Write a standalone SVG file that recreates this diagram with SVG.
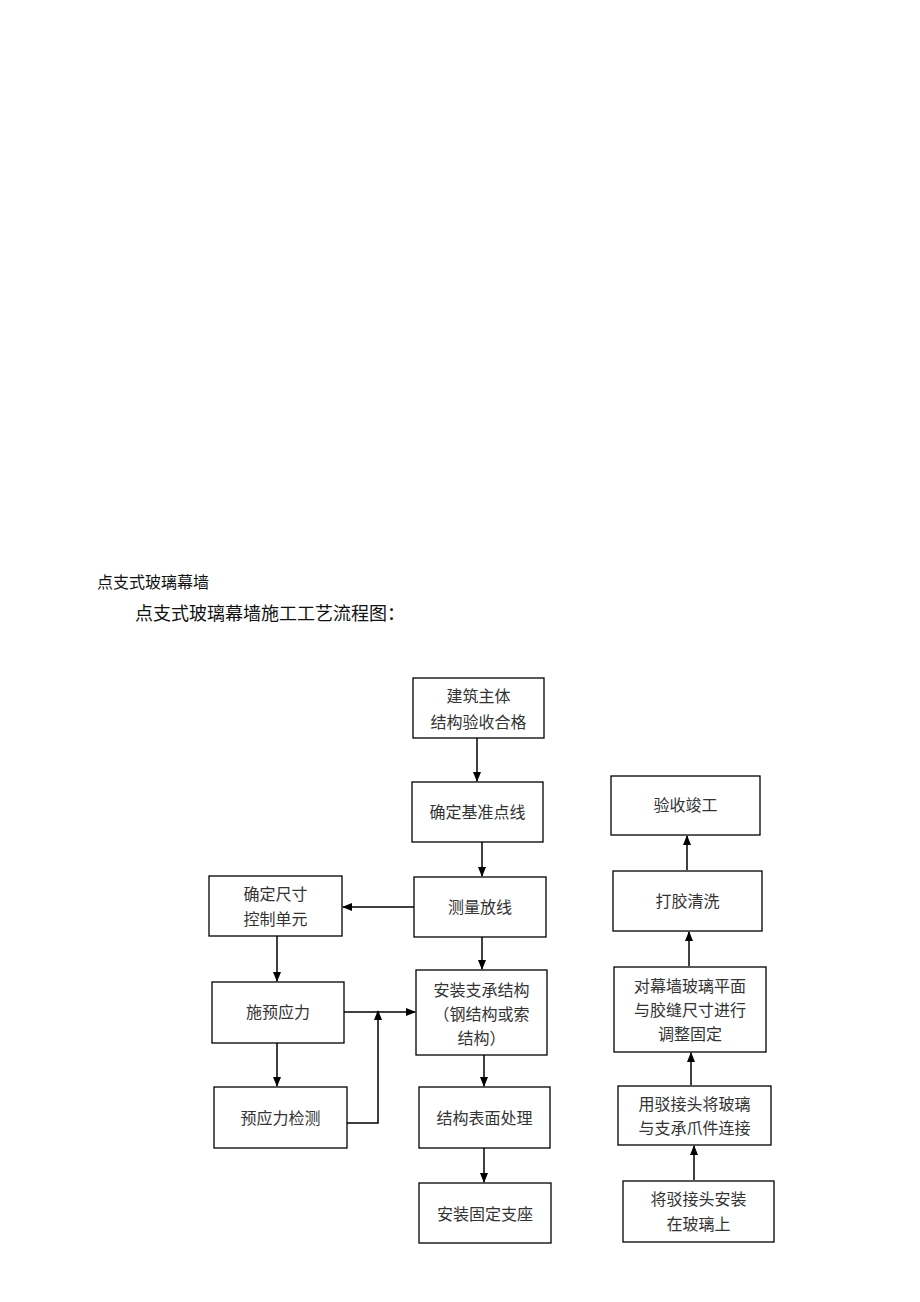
<svg xmlns="http://www.w3.org/2000/svg" width="920" height="1302" viewBox="0 0 920 1302">
<style>
.box{fill:#fff;stroke:#000;stroke-width:1.3}
.t{font-family:"Noto Sans CJK SC","Noto Sans",sans-serif;font-size:16px;fill:#333;text-anchor:middle}
.c{stroke:#000;stroke-width:1.5;fill:none}
.h{font-family:"Noto Sans CJK SC","Noto Sans",sans-serif;fill:#111}
</style>
<defs>
<marker id="ah" markerWidth="10" markerHeight="10" refX="9" refY="5" orient="auto" markerUnits="userSpaceOnUse">
<path d="M0,1 L10,5 L0,9 Z" fill="#000"/>
</marker>
</defs>
<rect width="920" height="1302" fill="#fff"/>
<text class="h" x="97" y="588" font-size="16">点支式玻璃幕墙</text>
<text class="h" x="135" y="620" font-size="18">点支式玻璃幕墙施工工艺流程图：</text>

<g id="connectors">
<line class="c" x1="477" y1="738" x2="477" y2="781" marker-end="url(#ah)"/>
<line class="c" x1="482" y1="842" x2="482" y2="876" marker-end="url(#ah)"/>
<line class="c" x1="414" y1="907" x2="343" y2="907" marker-end="url(#ah)"/>
<line class="c" x1="482" y1="937" x2="482" y2="969" marker-end="url(#ah)"/>
<line class="c" x1="277" y1="936" x2="277" y2="981" marker-end="url(#ah)"/>
<line class="c" x1="344" y1="1012" x2="415" y2="1012" marker-end="url(#ah)"/>
<line class="c" x1="277" y1="1043" x2="277" y2="1086" marker-end="url(#ah)"/>
<polyline class="c" points="347,1123 378,1123 378,1011" marker-end="url(#ah)"/>
<line class="c" x1="484" y1="1055" x2="484" y2="1086" marker-end="url(#ah)"/>
<line class="c" x1="484" y1="1148" x2="484" y2="1182" marker-end="url(#ah)"/>
<line class="c" x1="687" y1="870" x2="687" y2="836" marker-end="url(#ah)"/>
<line class="c" x1="689" y1="966" x2="689" y2="932" marker-end="url(#ah)"/>
<line class="c" x1="691" y1="1085" x2="691" y2="1053" marker-end="url(#ah)"/>
<line class="c" x1="694" y1="1180" x2="694" y2="1146" marker-end="url(#ah)"/>
</g>

<g id="n1"><rect class="box" x="413" y="678" width="131" height="60"/>
<text class="t" x="478.5" y="702">建筑主体</text><text class="t" x="478.5" y="728">结构验收合格</text></g>
<g id="n2"><rect class="box" x="412" y="782" width="131" height="60"/>
<text class="t" x="477.5" y="818">确定基准点线</text></g>
<g id="n3"><rect class="box" x="414" y="877" width="132" height="60"/>
<text class="t" x="480" y="913">测量放线</text></g>
<g id="n4"><rect class="box" x="209" y="876" width="133" height="60"/>
<text class="t" x="275.5" y="900">确定尺寸</text><text class="t" x="275.5" y="925">控制单元</text></g>
<g id="n5"><rect class="box" x="212" y="982" width="132" height="61"/>
<text class="t" x="278" y="1018">施预应力</text></g>
<g id="n6"><rect class="box" x="416" y="970" width="131" height="85"/>
<text class="t" x="481.5" y="996">安装支承结构</text><text class="t" x="481.5" y="1020">（钢结构或索</text><text class="t" x="481.5" y="1044">结构）</text></g>
<g id="n7"><rect class="box" x="214" y="1087" width="133" height="61"/>
<text class="t" x="280.5" y="1124">预应力检测</text></g>
<g id="n8"><rect class="box" x="419" y="1087" width="131" height="61"/>
<text class="t" x="484.5" y="1124">结构表面处理</text></g>
<g id="n9"><rect class="box" x="419" y="1183" width="132" height="60"/>
<text class="t" x="485" y="1220">安装固定支座</text></g>
<g id="n10"><rect class="box" x="611" y="776" width="149" height="59"/>
<text class="t" x="685.5" y="811">验收竣工</text></g>
<g id="n11"><rect class="box" x="613" y="871" width="149" height="60"/>
<text class="t" x="687.5" y="907">打胶清洗</text></g>
<g id="n12"><rect class="box" x="614" y="967" width="152" height="85"/>
<text class="t" x="690" y="992">对幕墙玻璃平面</text><text class="t" x="690" y="1016">与胶缝尺寸进行</text><text class="t" x="690" y="1040">调整固定</text></g>
<g id="n13"><rect class="box" x="618" y="1086" width="153" height="59"/>
<text class="t" x="694.5" y="1110">用驳接头将玻璃</text><text class="t" x="694.5" y="1134">与支承爪件连接</text></g>
<g id="n14"><rect class="box" x="623" y="1181" width="151" height="61"/>
<text class="t" x="698.5" y="1205">将驳接头安装</text><text class="t" x="698.5" y="1230">在玻璃上</text></g>
</svg>
